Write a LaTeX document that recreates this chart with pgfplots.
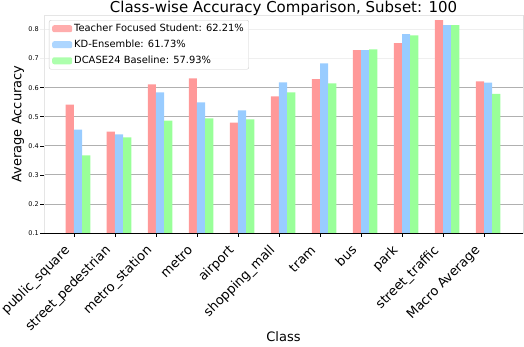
\documentclass[border=0pt]{standalone}
\usepackage{fontspec}
\setmainfont{DejaVu Sans}
\usepackage{pgfplots}
\usepackage{pgfplotstable}
\pgfplotsset{compat=1.18}

\definecolor{cpink}{HTML}{FF9999}
\definecolor{cblue}{HTML}{99CCFF}
\definecolor{cgreen}{HTML}{99FF99}
\definecolor{gridgray}{HTML}{B0B0B0}
\definecolor{faint}{HTML}{EFEFEF}

% class index, Teacher Focused Student, KD-Ensemble, DCASE24 Baseline
\pgfplotstableread{
idx tfs   kd    base
0   0.542 0.456 0.367
1   0.449 0.439 0.429
2   0.611 0.584 0.487
3   0.632 0.549 0.494
4   0.480 0.522 0.491
5   0.570 0.618 0.584
6   0.629 0.684 0.615
7   0.729 0.729 0.732
8   0.753 0.784 0.780
9   0.832 0.815 0.815
10  0.622 0.617 0.579
}\accdata

\pgfplotsset{
  swatch/.style={legend image code/.code={\fill[##1] (0pt,-3.5pt) rectangle (20pt,3.5pt);}},
  bars/.style={ybar, bar width=0.2, bar shift=0pt, draw=none, fill=#1, swatch},
}

\begin{document}
\begin{tikzpicture}
\begin{axis}[
    anchor=south west, at={(0pt,0pt)},
    scale only axis, width=479pt, height=218pt,
    xmin=-0.73, xmax=10.95,
    ymin=0.1, ymax=0.85,
    axis line style={draw=none},
    tick pos=left, tick align=outside,
    major tick length=3.5pt,
    every tick/.style={black, line width=0.6pt},
    xtick={0,...,10},
    xticklabels={public\_square, street\_pedestrian, metro\_station, metro, airport,
                 shopping\_mall, tram, bus, park, street\_traffic, Macro Average},
    xticklabel style={xshift=-9pt, yshift=-9pt, rotate=45, anchor=north east,
                      inner sep=0pt, text height=0.76em, text depth=0.24em,
                      font=\fontsize{13}{14}\selectfont},
    ytick={0.1,0.2,...,0.61},
    extra y ticks={0.7,0.8},
    extra y tick style={
        major tick style={faint},
        major grid style={faint, line width=0.8pt}},
    /pgf/number format/assume math mode=true,
    yticklabel style={font=\fontsize{6.5}{7}\selectfont, inner sep=1.5pt,
                      /pgf/number format/.cd, fixed, precision=1, fixed zerofill},
    ymajorgrids,
    major grid style={gridgray, line width=0.8pt},
    title={Class-wise Accuracy Comparison, Subset: 100},
    every axis title/.style={at={(axis description cs:0.5,1)}, anchor=base,
        yshift=3pt, font=\fontsize{15}{17}\selectfont},
    xlabel={Class},
    every axis x label/.style={at={(axis description cs:0.5,0)}, anchor=center,
        yshift=-104pt, font=\fontsize{13}{15}\selectfont},
    ylabel={Average Accuracy},
    every axis y label/.style={at={(axis description cs:0,0.5)}, anchor=center,
        xshift=-26pt, rotate=90, font=\fontsize{13}{15}\selectfont},
    legend style={at={(axis description cs:0,1)}, anchor=north west,
        xshift=5pt, yshift=-5pt, draw=black!20, rounded corners=2pt,
        fill=white, fill opacity=0.8, text opacity=1,
        font=\fontsize{9.9}{11}\selectfont, row sep=3pt,
        inner xsep=3pt, inner ysep=2pt},
    legend cell align=left,
]
\addplot[bars=cpink]  table[x expr=\thisrow{idx}-0.1, y=tfs]  {\accdata};
\addplot[bars=cblue]  table[x expr=\thisrow{idx}+0.1, y=kd]   {\accdata};
\addplot[bars=cgreen] table[x expr=\thisrow{idx}+0.3, y=base] {\accdata};
\legend{Teacher Focused Student: 62.21\%, KD-Ensemble: 61.73\%, DCASE24 Baseline: 57.93\%}

% spines: faint left and top, black bottom and right
\draw[black!10, line width=0.8pt] (rel axis cs:0,0) -- (rel axis cs:0,1) -- (rel axis cs:1,1);
\draw[black, line width=0.9pt] (rel axis cs:0,0) -- (rel axis cs:1,0) -- (rel axis cs:1,1);
\end{axis}
\pgfresetboundingbox
\useasboundingbox (-44pt,-113pt) rectangle (480pt,233pt);
\end{tikzpicture}
\end{document}
